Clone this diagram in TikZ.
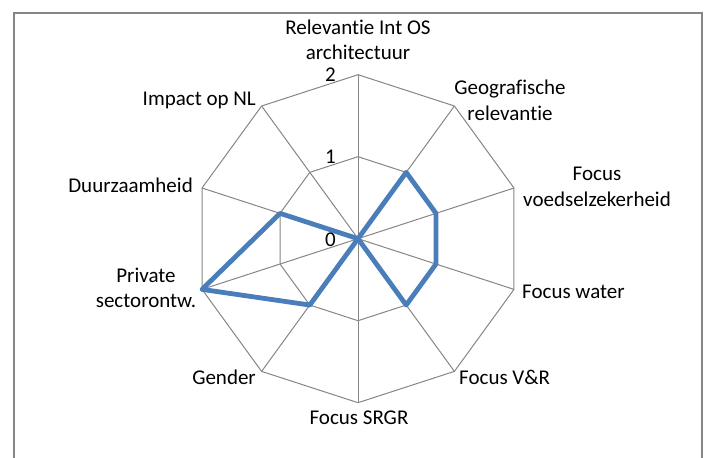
\documentclass[tikz,border=0pt]{standalone}
\usepackage{fontspec}
\setmainfont{Carlito}[RawFeature={-liga}]
\usetikzlibrary{calc}
\definecolor{gridgray}{HTML}{868686}
\definecolor{seriesblue}{HTML}{4A7EBB}
\begin{document}
\begin{tikzpicture}[x=1pt,y=1pt,
  lbl/.style={inner sep=0pt,font=\fontsize{21}{25.5}\selectfont,align=center},
  gridline/.style={draw=gridgray,line width=1pt},
  frame/.style={draw=gridgray,line width=1.6pt},
  series/.style={draw=seriesblue,line width=4.8pt,line join=round}]
\useasboundingbox (0,0) rectangle (708,457);
\fill[white] (0,0) rectangle (708,457);
\draw[frame] (14,-20) -- (14,443.7) -- (701.7,443.7) -- (701.7,-20);
\coordinate (C) at (358,218.3);
% grid rings and spokes
\foreach \k in {0,...,9} {
  \coordinate (v\k) at ($(C)+({90-36*\k}:164)$);
  \coordinate (u\k) at ($(C)+({90-36*\k}:82)$);
}
\draw[gridline] (v0)--(v1)--(v2)--(v3)--(v4)--(v5)--(v6)--(v7)--(v8)--(v9)--cycle;
\draw[gridline] (u0)--(u1)--(u2)--(u3)--(u4)--(u5)--(u6)--(u7)--(u8)--(u9)--cycle;
\foreach \k in {0,...,9} { \draw[gridline] (C) -- (v\k); }
% data series
\draw[series] (C) -- (u1) -- (u2) -- (u3) -- (u4) -- (C) -- (u6) -- (v7) -- (u8) -- (C) -- cycle;
% scale labels
\node[lbl,anchor=east] (s2) at (336,382) {2};
\node[lbl,anchor=east] (s1) at (336,300) {1};
\node[lbl,anchor=east] (s0) at (336,217) {0};
% axis labels
\node[lbl] (rel) at (358,417) {Relevantie Int OS\\architectuur};
\node[lbl] (geo) at (510,356.5) {Geografische\\relevantie};
\node[lbl] (voed) at (597,270) {Focus\\voedselzekerheid};
\node[lbl,anchor=west] (water) at (522,165) {Focus water};
\node[lbl,anchor=west] (vr) at (459,80) {Focus V\&R};
\node[lbl] (srgr) at (359,39) {Focus SRGR};
\node[lbl,anchor=east] (gender) at (256,80) {Gender};
\node[lbl] (priv) at (146,169) {Private\\sectorontw.};
\node[lbl,anchor=east] (duurz) at (193,272) {Duurzaamheid};
\node[lbl,anchor=east] (impact) at (256,357) {Impact op NL};
\end{tikzpicture}
\end{document}
